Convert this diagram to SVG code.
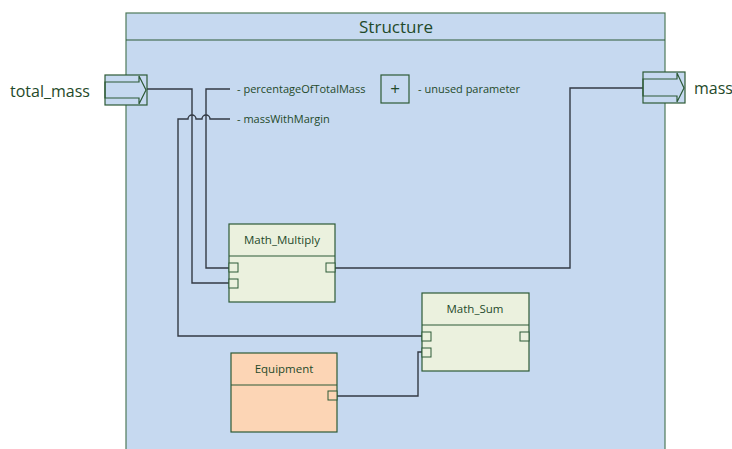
<svg xmlns="http://www.w3.org/2000/svg" width="732" height="449" viewBox="0 0 732 449">
  <style>
    .frame { fill: #c6d9f0; stroke: #4f7a5a; stroke-width: 1.2; }
    .node { fill: #ebf1de; stroke: #2d5a36; stroke-width: 1.2; }
    .equip { fill: #fcd5b5; stroke: #2d5a36; stroke-width: 1.2; }
    .sep { stroke: #2d5a36; stroke-width: 1.2; fill: none; }
    .port { fill: #ebf1de; stroke: #2d5a36; stroke-width: 1; }
    .eport { fill: #fcd5b5; stroke: #2d5a36; stroke-width: 1; }
    .ext { fill: #c6d9f0; stroke: #2d5a36; stroke-width: 1.2; }
    .arrow { fill: none; stroke: #2d5a36; stroke-width: 1.2; stroke-linejoin: miter; }
    .wire { fill: none; stroke: #333a44; stroke-width: 1.4; }
    text { font-family: "Open Sans", "Liberation Sans", sans-serif; fill: #1f4a2a; }
    .title { font-size: 17px; }
    .big { font-size: 16px; }
    .name { font-size: 11.5px; }
    .note { font-size: 11px; }
  </style>

  <!-- enclosing Structure block -->
  <g id="structure">
    <rect class="frame" x="126" y="13" width="539" height="445"/>
    <line class="sep" x1="126" y1="40" x2="665" y2="40"/>
    <text class="title" x="396" y="33" text-anchor="middle">Structure</text>
  </g>

  <!-- parameter annotations -->
  <g id="params">
    <text class="note" x="237" y="93">- percentageOfTotalMass</text>
    <text class="note" x="237" y="123">- massWithMargin</text>
    <rect class="ext" x="381" y="75" width="28" height="28"/>
    <text x="395" y="95" text-anchor="middle" font-size="17">+</text>
    <text class="note" x="418" y="93">- unused parameter</text>
  </g>

  <!-- connectors -->
  <g id="connectors">
    <polyline class="wire" points="147,89 192,89 192,283 229,283"/>
    <polyline class="wire" points="230,89 206,89 206,268 229,268"/>
    <path class="wire" d="M230,119 H210 A4,4 0 0 0 202,119 H196 A4,4 0 0 0 188,119 H178 V336 H422"/>
    <polyline class="wire" points="335,268 570,268 570,88 643,88"/>
    <polyline class="wire" points="337,396 418,396 418,352 422,352"/>
  </g>

  <!-- boundary ports -->
  <g id="total_mass">
    <rect class="ext" x="105" y="75" width="42" height="30"/>
    <polygon class="arrow" points="105,82 139,82 139,76 146,90 139,104 139,98 105,98"/>
    <text class="big" x="10" y="97">total_mass</text>
  </g>
  <g id="mass">
    <rect class="ext" x="643" y="72" width="42" height="31"/>
    <polygon class="arrow" points="643,79 677,79 677,73 684,88 677,102 677,96 643,96"/>
    <text class="big" x="694" y="94">mass</text>
  </g>

  <!-- Math_Multiply -->
  <g id="math_multiply">
    <rect class="node" x="229" y="224" width="106" height="78"/>
    <line class="sep" x1="229" y1="256" x2="335" y2="256"/>
    <text class="name" x="282" y="244" text-anchor="middle">Math_Multiply</text>
    <rect class="port" x="229" y="263" width="9" height="9"/>
    <rect class="port" x="229" y="279" width="9" height="9"/>
    <rect class="port" x="326" y="263" width="9" height="9"/>
  </g>

  <!-- Math_Sum -->
  <g id="math_sum">
    <rect class="node" x="422" y="293" width="107" height="78"/>
    <line class="sep" x1="422" y1="325" x2="529" y2="325"/>
    <text class="name" x="475" y="313" text-anchor="middle">Math_Sum</text>
    <rect class="port" x="422" y="332" width="9" height="9"/>
    <rect class="port" x="422" y="348" width="9" height="9"/>
    <rect class="port" x="520" y="332" width="9" height="9"/>
  </g>

  <!-- Equipment -->
  <g id="equipment">
    <rect class="equip" x="231" y="353" width="106" height="79"/>
    <line class="sep" x1="231" y1="385" x2="337" y2="385"/>
    <text class="name" x="284" y="373" text-anchor="middle">Equipment</text>
    <rect class="eport" x="328" y="391" width="9" height="9"/>
  </g>
</svg>
